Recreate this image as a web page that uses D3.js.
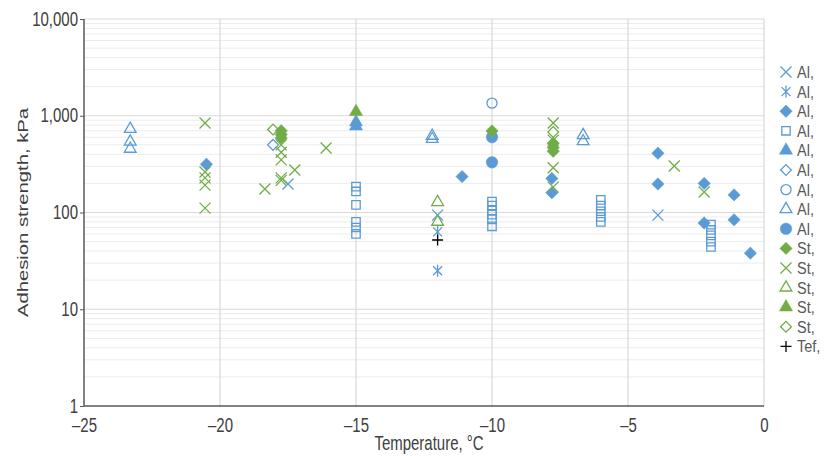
<!DOCTYPE html>
<html lang="en">
<head>
<meta charset="UTF-8">
<title>Adhesion strength vs temperature</title>
<script src="https://cdn.jsdelivr.net/npm/d3@7"></script>
<style>
	body { margin: 0; background: #fff; }
	svg text { font-family: "Liberation Sans", Arial, sans-serif; }
</style>
</head>
<body>
<div id="viz"></div>
<script>
// data: [temperature °C, adhesion strength kPa]
var alCross = [[-17.5, 197], [-12, 94], [-3.9, 94]];
var alStar = [[-12, 63], [-12, 25]];
var alDiamond = [[-20.5, 315], [-11.1, 235], [-7.8, 225], [-7.8, 160], [-3.9, 410], [-3.9, 197],
	[-2.2, 200], [-2.2, 78], [-1.1, 152], [-1.1, 84], [-0.5, 38]];
var alSquare = [[-15, 185], [-15, 165], [-15, 120], [-15, 80], [-15, 70], [-15, 60],
	[-10, 130], [-10, 118], [-10, 105], [-10, 95], [-10, 85], [-10, 72],
	[-6, 135], [-6, 118], [-6, 103], [-6, 90], [-6, 80],
	[-1.95, 75], [-1.95, 66], [-1.95, 58], [-1.95, 50], [-1.95, 44]];
var alTriFill = [[-15, 860], [-15, 780]];
var alDiamondOpen = [[-18.05, 500]];
var alCircleOpen = [[-10, 1350]];
var alTriOpen = [[-23.3, 730], [-23.3, 540], [-23.3, 455], [-12.2, 620], [-12.2, 575], [-6.65, 630], [-6.65, 545]];
var alCircle = [[-10, 600], [-10, 330]];
var stDiamond = [[-17.75, 700], [-17.75, 640], [-17.75, 590], [-10, 695], [-7.75, 520], [-7.75, 470], [-7.75, 430]];
var stCross = [[-20.55, 840], [-20.55, 262], [-20.55, 228], [-20.55, 192], [-20.55, 111], [-18.35, 175],
	[-17.75, 500], [-17.75, 420], [-17.75, 350], [-17.75, 228], [-17.75, 215], [-17.25, 275], [-16.1, 465],
	[-7.75, 840], [-7.75, 560], [-7.75, 290], [-7.75, 183], [-3.3, 302], [-2.2, 163]];
var stTriOpen = [[-12, 128], [-12, 80]];
var stTriFill = [[-15, 1100]];
var stDiamondOpen = [[-18.05, 720], [-7.75, 680]];
var tefPlus = [[-12, 52]];

var xTicks = [-25, -20, -15, -10, -5, 0];
var yTicks = [1, 10, 100, 1000, 10000];

var blue = '#5b9bd5', green = '#70ad47';

var series = [
	{name: 'Al,', data: alCross, shape: 'x', color: blue},
	{name: 'Al,', data: alStar, shape: 'star', color: blue},
	{name: 'Al,', data: alDiamond, shape: 'diamond', color: blue, fill: true},
	{name: 'Al,', data: alSquare, shape: 'square', color: blue},
	{name: 'Al,', data: alTriFill, shape: 'triangle', color: blue, fill: true},
	{name: 'Al,', data: alDiamondOpen, shape: 'diamond', color: blue},
	{name: 'Al,', data: alCircleOpen, shape: 'circle', color: blue},
	{name: 'Al,', data: alTriOpen, shape: 'triangle', color: blue},
	{name: 'Al,', data: alCircle, shape: 'circle', color: blue, fill: true},
	{name: 'St,', data: stDiamond, shape: 'diamond', color: green, fill: true},
	{name: 'St,', data: stCross, shape: 'x', color: green},
	{name: 'St,', data: stTriOpen, shape: 'triangle', color: green},
	{name: 'St,', data: stTriFill, shape: 'triangle', color: green, fill: true},
	{name: 'St,', data: stDiamondOpen, shape: 'diamond', color: green},
	{name: 'Tef,', data: tefPlus, shape: 'plus', color: '#000'}
];

var W = 829, H = 456;
var m = {left: 84, right: 764, top: 19, bottom: 406};
var stretch = 1.35; // text in the reference is taller than wide

var x = d3.scaleLinear().domain([-25, 0]).range([m.left, m.right]);
var y = d3.scaleLog().domain([1, 10000]).range([m.bottom, m.top]);

var svg = d3.select('#viz').append('svg')
	.attr('width', W)
	.attr('height', H);

// minor grid
var minor = [];
for (var d = 1; d < 10000; d *= 10) {
	for (var k = 2; k <= 9; k++) minor.push(d * k);
}
svg.append('g').selectAll('line').data(minor).enter().append('line')
	.attr('x1', m.left).attr('x2', m.right)
	.attr('y1', function (d) { return y(d); })
	.attr('y2', function (d) { return y(d); })
	.attr('stroke', '#ececec').attr('stroke-width', 1);

// major grid
svg.append('g').selectAll('line').data(yTicks.slice(1)).enter().append('line')
	.attr('x1', m.left).attr('x2', m.right)
	.attr('y1', function (d) { return y(d); })
	.attr('y2', function (d) { return y(d); })
	.attr('stroke', '#d9d9d9').attr('stroke-width', 1.2);

svg.append('g').selectAll('line').data(xTicks.slice(1)).enter().append('line')
	.attr('x1', function (d) { return x(d); })
	.attr('x2', function (d) { return x(d); })
	.attr('y1', m.top).attr('y2', m.bottom)
	.attr('stroke', '#d9d9d9').attr('stroke-width', 1.2);

// axes
var yAxis = d3.axisLeft(y).tickValues(yTicks).tickSize(4)
	.tickFormat(d3.format(','));
var xAxis = d3.axisBottom(x).tickValues(xTicks).tickSize(0)
	.tickFormat(function (d) { return d < 0 ? '\u2013' + Math.abs(d) : d; });

var gy = svg.append('g').attr('transform', 'translate(' + m.left + ',0)').call(yAxis);
var gx = svg.append('g').attr('transform', 'translate(0,' + m.bottom + ')').call(xAxis);

[gx, gy].forEach(function (g) {
	g.select('.domain').attr('stroke', '#595959').attr('stroke-width', 1.5);
	g.selectAll('.tick line').attr('stroke', '#595959');
	g.selectAll('.tick text').attr('fill', '#404040').style('font-size', '15px')
		.attr('x', 0).attr('y', 0);
});
gy.selectAll('.tick text').attr('dy', '0.35em')
	.attr('transform', 'translate(-6,-1) scale(1,' + stretch + ')');
gx.selectAll('.tick text').attr('dy', 0)
	.attr('transform', 'translate(0,26) scale(1,' + stretch + ')');
gy.select('.domain').attr('d', 'M0,' + m.top + 'V' + m.bottom);
gx.select('.domain').attr('d', 'M' + m.left + ',0H' + m.right);

svg.append('text')
	.attr('transform', 'translate(28,' + ((m.top + m.bottom) / 2) + ') rotate(-90) scale(' + stretch + ',1)')
	.attr('text-anchor', 'middle')
	.attr('fill', '#404040')
	.style('font-size', '15px')
	.text('Adhesion strength, kPa');

svg.append('text')
	.attr('transform', 'translate(429,450) scale(1,' + stretch + ')')
	.attr('text-anchor', 'middle')
	.attr('fill', '#404040')
	.style('font-size', '15px')
	.text('Temperature, \u00b0C');

// markers
function marker(g, s) {
	var r;
	if (s.shape === 'x' || s.shape === 'star' || s.shape === 'plus') {
		var p = {x: 'M-5.5,-5.5L5.5,5.5M-5.5,5.5L5.5,-5.5',
			star: 'M-4.5,-4.5L4.5,4.5M-4.5,4.5L4.5,-4.5M0,-6V6',
			plus: 'M-5.5,0H5.5M0,-5.5V5.5'}[s.shape];
		g.append('path').attr('d', p)
			.attr('stroke', s.color).attr('stroke-width', 1.3).attr('fill', 'none');
		return;
	}
	var d;
	if (s.shape === 'diamond') {
		r = s.fill ? 6.2 : 5.4;
		d = 'M0,' + -r + 'L' + r + ',0L0,' + r + 'L' + -r + ',0Z';
	} else if (s.shape === 'square') {
		d = 'M-4.2,-4.2H4.2V4.2H-4.2Z';
	} else if (s.shape === 'triangle') {
		d = d3.symbol().type(d3.symbolTriangle).size(s.fill ? 75 : 60)();
	} else {
		d = d3.symbol().type(d3.symbolCircle).size(s.fill ? 105 : 80)();
	}
	g.append('path').attr('d', d)
		.attr('fill', s.fill ? s.color : 'none')
		.attr('stroke', s.color)
		.attr('stroke-width', s.fill ? 0.5 : 1.3);
}

series.forEach(function (s) {
	var pts = svg.append('g').selectAll('g').data(s.data).enter().append('g')
		.attr('transform', function (d) { return 'translate(' + x(d[0]) + ',' + y(d[1]) + ')'; });
	pts.each(function () { marker(d3.select(this), s); });
});

// legend
var legend = svg.append('g').selectAll('g').data(series).enter().append('g')
	.attr('transform', function (d, i) { return 'translate(786,' + (72 + i * 19.6) + ')'; });
legend.each(function (s) { marker(d3.select(this), s); });
legend.append('text')
	.attr('transform', 'translate(11,6) scale(1,1.2)')
	.attr('fill', '#595959')
	.style('font-size', '14.5px')
	.text(function (d) { return d.name; });
</script>
</body>
</html>
